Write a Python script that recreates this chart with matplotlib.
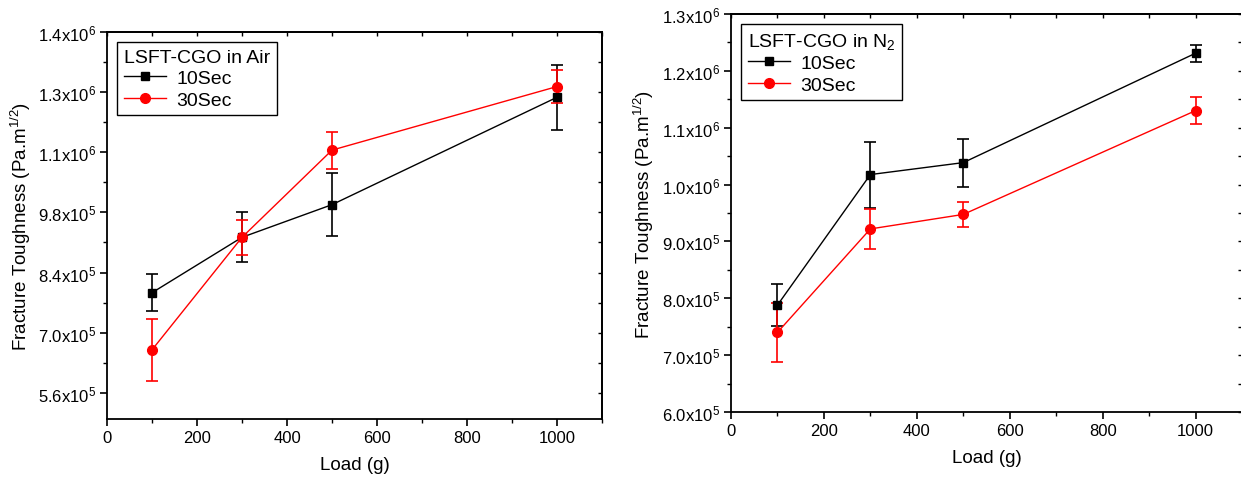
import numpy as np
import matplotlib
matplotlib.use('Agg')
import matplotlib.pyplot as plt
from matplotlib.ticker import MultipleLocator, FuncFormatter

plt.rcParams['font.family'] = ['Liberation Sans', 'DejaVu Sans']
plt.rcParams['mathtext.fontset'] = 'custom'
plt.rcParams['mathtext.rm'] = 'Liberation Sans'
plt.rcParams['mathtext.it'] = 'Liberation Sans:italic'

#%% Data
load = [100, 300, 500, 1000]

air_10 = [7.93e5, 9.22e5, 9.98e5, 1.248e6]
air_10_err = [0.43e5, 0.58e5, 0.73e5, 0.75e5]
air_30 = [6.60e5, 9.22e5, 1.125e6, 1.273e6]
air_30_err = [0.72e5, 0.41e5, 0.43e5, 0.38e5]

n2_10 = [7.88e5, 1.0176e6, 1.0386e6, 1.231e6]
n2_10_err = [0.375e5, 0.58e5, 0.42e5, 0.15e5]
n2_30 = [7.40e5, 9.22e5, 9.475e5, 1.130e6]
n2_30_err = [0.52e5, 0.35e5, 0.225e5, 0.24e5]


def sci_fmt(v, pos):
    if v == 0:
        return '0'
    e = int(np.floor(np.log10(abs(v)) + 1e-9))
    m = v / 10**e
    return r'$\mathregular{%.1fx10^{%d}}$' % (m, e)


def style_axis(ax, ymin, ymax, ystep):
    ax.set_xlim(0, 1100)
    ax.set_ylim(ymin, ymax)
    ax.xaxis.set_major_locator(MultipleLocator(200))
    ax.xaxis.set_minor_locator(MultipleLocator(100))
    ax.yaxis.set_major_locator(MultipleLocator(ystep))
    ax.yaxis.set_minor_locator(MultipleLocator(ystep / 2))
    ax.yaxis.set_major_formatter(FuncFormatter(sci_fmt))
    for s in ax.spines.values():
        s.set_linewidth(1.3)
    ax.tick_params(which='major', direction='out', length=5, width=1.2,
                   labelsize=12, pad=3, top=False, right=False)
    ax.tick_params(which='minor', direction='out', length=3, width=1.0,
                   top=False, right=False)
    # mirrored ticks on top and right
    sec = ax.secondary_xaxis('top')
    sec.xaxis.set_major_locator(MultipleLocator(100))
    sec.tick_params(direction='in', length=3, width=1.0, labeltop=False)
    sec.spines['top'].set_linewidth(1.3)
    secy = ax.secondary_yaxis('right')
    secy.yaxis.set_major_locator(MultipleLocator(ystep / 2))
    secy.tick_params(direction='in', length=3, width=1.0, labelright=False)
    secy.spines['right'].set_linewidth(1.3)
    ax.set_xlabel('Load (g)', fontsize=13.5, labelpad=8)
    ax.set_ylabel(r'Fracture Toughness (Pa.m$^{\mathregular{1/2}}$)', fontsize=13.5)


def plot_series(ax, y, yerr, color, marker, ms):
    c = ax.errorbar(load, y, yerr=yerr, color=color, marker=marker, ms=ms,
                    lw=1.0, elinewidth=1.2, capsize=4, capthick=1.2)
    return c[0]


def add_legend(ax, handles, title):
    leg = ax.legend(handles=handles, labels=['10Sec', '30Sec'], title=title,
                    loc='upper left', fontsize=14, title_fontsize=14,
                    frameon=True, fancybox=False, edgecolor='black',
                    framealpha=1, handlelength=2.2, handletextpad=0.5,
                    borderpad=0.35, labelspacing=0.2, alignment='left',
                    borderaxespad=0.5)
    leg.get_frame().set_linewidth(1.0)


W, H = 1241, 481
fig = plt.figure(figsize=(W / 100, H / 100), dpi=100)

ax1 = fig.add_axes([107 / W, (H - 420) / H, 495 / W, 387 / H])
h1 = plot_series(ax1, air_10, air_10_err, 'black', 's', 6)
h2 = plot_series(ax1, air_30, air_30_err, 'red', 'o', 7)
style_axis(ax1, 4.99e5, 1.4e6, 1.4e5)
ax1.yaxis.set_label_coords(-0.15, 0.5)
add_legend(ax1, [h1, h2], 'LSFT-CGO in Air')

ax2 = fig.add_axes([731 / W, (H - 413) / H, 511 / W, 398 / H])
h1 = plot_series(ax2, n2_10, n2_10_err, 'black', 's', 6)
h2 = plot_series(ax2, n2_30, n2_30_err, 'red', 'o', 7)
style_axis(ax2, 6.0e5, 1.3e6, 1.0e5)
ax2.yaxis.set_label_coords(-0.147, 0.5)
add_legend(ax2, [h1, h2], r'LSFT-CGO in N$_\mathregular{2}$')

fig.savefig('out.png', dpi=100)
